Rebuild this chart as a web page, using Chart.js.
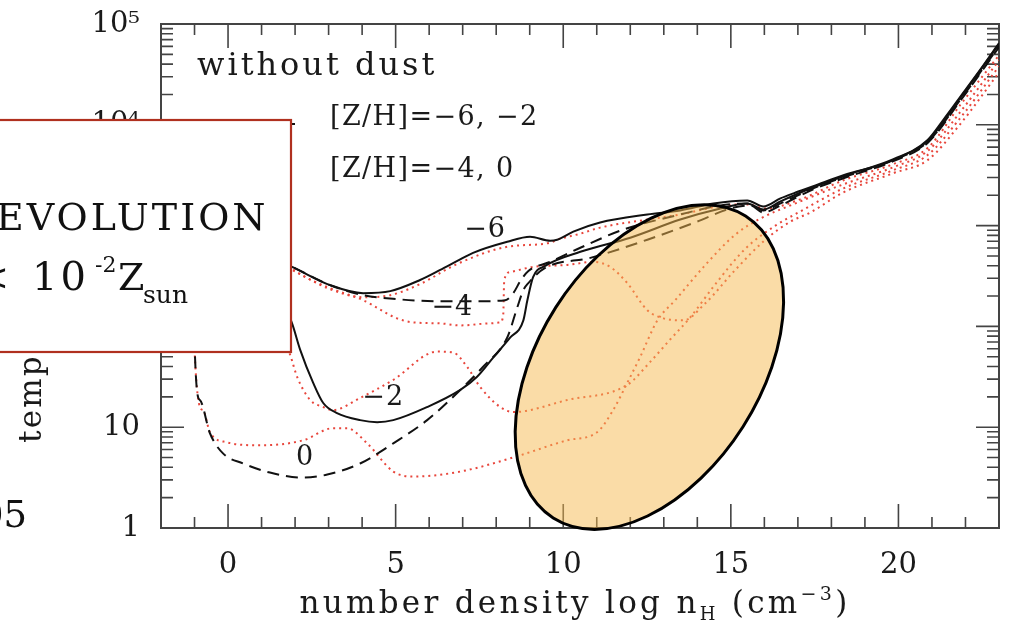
<!DOCTYPE html>
<html>
<head>
<meta charset="utf-8">
<script src="https://cdn.jsdelivr.net/npm/chart.js@4.4.1/dist/chart.umd.min.js"></script>
<style>
  html, body { margin: 0; padding: 0; background: #fff; }
</style>
</head>
<body>
<canvas id="tempChart" width="1009" height="640"></canvas>
<script>
// tracks: log10 n_H (cm^-3) and log10 T (K)
const solidM6N    = [-1, 0, 1, 1.91, 3.04, 4.03, 4.84, 5.73, 6.33, 6.84, 7.31, 8.33, 9.01, 9.61, 9.82, 10.30, 11.10, 12.51, 13.49, 14.48, 15.49, 15.97, 16.48, 16.87, 17.46, 18.36, 19.85, 20.87, 21.34, 21.85, 22.36, 23];
const solidM6LogT = [3.40, 2.95, 2.72, 2.59, 2.41, 2.33, 2.35, 2.46, 2.56, 2.65, 2.73, 2.84, 2.89, 2.85, 2.86, 2.94, 3.03, 3.11, 3.15, 3.22, 3.25, 3.19, 3.27, 3.32, 3.39, 3.50, 3.65, 3.85, 4.05, 4.28, 4.51, 4.81];

const dashM4N    = [-1, 0, 1, 1.91, 3.04, 4.03, 5.04, 6.33, 7.52, 8.27, 8.51, 8.72, 8.96, 9.61, 10.51, 11.79, 13.49, 14.69, 15.49, 15.97, 16.48, 17.46, 18.36, 19.85, 20.87, 21.85, 23];
const dashM4LogT = [3.40, 2.95, 2.72, 2.59, 2.41, 2.31, 2.27, 2.25, 2.25, 2.26, 2.33, 2.45, 2.55, 2.64, 2.78, 2.96, 3.11, 3.20, 3.22, 3.15, 3.22, 3.37, 3.48, 3.65, 3.83, 4.25, 4.78];

const solidM2N    = [-1, 0, 1, 1.91, 2.15, 2.54, 2.84, 3.25, 3.94, 4.45, 4.93, 5.94, 6.93, 7.43, 7.91, 8.42, 8.81, 8.93, 9.10, 9.46, 10.51, 12.00, 13.49, 14.69, 15.49, 15.97, 16.48, 17.46, 18.36, 19.85, 20.87, 21.85, 23];
const solidM2LogT = [3.40, 3.00, 2.70, 2.03, 1.77, 1.44, 1.24, 1.14, 1.07, 1.05, 1.07, 1.20, 1.37, 1.50, 1.69, 1.89, 2.06, 2.26, 2.49, 2.60, 2.74, 2.88, 3.06, 3.17, 3.22, 3.16, 3.24, 3.38, 3.49, 3.66, 3.84, 4.27, 4.80];

const dash0N    = [-1, -0.99, -0.84, -0.54, -0.15, 0.45, 1.25, 2.24, 2.96, 3.94, 4.93, 5.94, 6.93, 7.61, 8.33, 8.63, 8.81, 8.96, 9.46, 10.81, 12.51, 14.00, 14.99, 15.58, 15.97, 16.48, 17.46, 18.36, 19.85, 20.87, 21.85, 23];
const dash0LogT = [3.40, 1.74, 1.27, 0.94, 0.74, 0.64, 0.55, 0.50, 0.53, 0.64, 0.84, 1.07, 1.37, 1.60, 1.89, 2.19, 2.36, 2.43, 2.58, 2.68, 2.86, 3.04, 3.17, 3.20, 3.13, 3.20, 3.36, 3.47, 3.64, 3.82, 4.24, 4.77];

const dotM6N    = [-1, 0, 1, 1.91, 3.04, 4.03, 4.84, 5.73, 6.84, 8.33, 9.61, 9.82, 10.51, 11.10, 12.51, 13.49, 14.78, 15.49, 16.03, 17.07, 18.36, 19.85, 20.87, 21.85, 23];
const dotM6LogT = [3.38, 2.93, 2.70, 2.56, 2.37, 2.29, 2.31, 2.42, 2.62, 2.79, 2.83, 2.86, 2.92, 2.98, 3.06, 3.11, 3.20, 3.21, 3.17, 3.26, 3.45, 3.61, 3.77, 4.20, 4.69];

const dotM4N    = [-1, 0, 1, 1.91, 2.24, 3.04, 4.03, 5.04, 5.52, 6.33, 6.93, 7.82, 8.12, 8.21, 8.24, 8.42, 9.10, 10.12, 10.90, 11.40, 11.91, 12.51, 12.99, 13.58, 14.24, 15.13, 16.03, 16.78, 17.37, 18.36, 19.85, 20.87, 21.85, 23];
const dotM4LogT = [3.38, 2.93, 2.70, 2.57, 2.50, 2.38, 2.26, 2.08, 2.04, 2.03, 2.01, 2.03, 2.04, 2.12, 2.46, 2.54, 2.59, 2.61, 2.64, 2.59, 2.43, 2.16, 2.08, 2.06, 2.23, 2.56, 2.86, 3.04, 3.13, 3.33, 3.52, 3.65, 4.01, 4.52];

const dotM2N    = [-1, 0, 1, 1.85, 2.06, 2.45, 2.84, 3.13, 3.94, 4.93, 6.24, 6.72, 7.13, 7.52, 8.12, 8.51, 10.12, 11.91, 12.60, 13.19, 13.79, 14.54, 15.43, 16.33, 17.07, 18.36, 19.85, 20.87, 21.85, 23];
const dotM2LogT = [3.38, 2.85, 2.35, 1.72, 1.50, 1.27, 1.20, 1.17, 1.29, 1.47, 1.75, 1.74, 1.60, 1.40, 1.20, 1.15, 1.27, 1.42, 1.65, 1.87, 2.09, 2.42, 2.77, 3.00, 3.14, 3.37, 3.55, 3.70, 4.07, 4.58];

const dot0N    = [-1, -0.99, -0.75, -0.54, -0.03, 0.96, 2.24, 3.13, 3.55, 4.15, 4.93, 5.52, 6.93, 8.51, 10.12, 11.01, 11.49, 11.91, 12.30, 12.81, 13.34, 14.24, 15.13, 15.88, 16.78, 18.36, 19.85, 20.87, 21.85, 23];
const dot0LogT = [3.38, 1.70, 1.17, 0.95, 0.85, 0.82, 0.87, 0.99, 0.99, 0.84, 0.56, 0.51, 0.56, 0.70, 0.87, 0.95, 1.17, 1.44, 1.70, 2.06, 2.26, 2.61, 2.91, 3.07, 3.20, 3.41, 3.58, 3.74, 4.13, 4.64];

const xTickValues = [0, 5, 10, 15, 20];
const yTickValues = [1, 10, 100, 1000, 10000, 100000];
const yTickLabels = ['1', '10', '10²', '10³', '10⁴', '10⁵'];
const legendLabels = ['[Z/H]=−6, −2', '[Z/H]=−4, 0'];
const trackLabels = ['−6', '−4', '−2', '0'];
const trackLabelN = [7.67, 6.69, 4.63, 2.30];
const trackLabelT = [910, 152, 19.5, 4.9];

const serif = '"DejaVu Serif", "Liberation Serif", serif';
const RED = '#e8463c';

function toPoints(n, logT) {
  return n.map((v, i) => ({ x: v, y: Math.pow(10, logT[i]) }));
}

function track(label, n, logT, color, dash, width) {
  return {
    label: label,
    data: toPoints(n, logT),
    borderColor: color,
    borderWidth: width,
    borderDash: dash,
    pointRadius: 0,
    fill: false,
    tension: 0.4,
    cubicInterpolationMode: 'monotone'
  };
}

// black tracks first so they sit on top of the red ones
const datasets = [
  track('-6', solidM6N, solidM6LogT, '#111', [], 2),
  track('-2', solidM2N, solidM2LogT, '#111', [], 2),
  track('-4', dashM4N, dashM4LogT, '#111', [12, 7], 2),
  track('0', dash0N, dash0LogT, '#111', [12, 7], 2),
  track('-6 dotted', dotM6N, dotM6LogT, RED, [2, 4], 2),
  track('-4 dotted', dotM4N, dotM4LogT, RED, [2, 4], 2),
  track('-2 dotted', dotM2N, dotM2LogT, RED, [2, 4], 2),
  track('0 dotted', dot0N, dot0LogT, RED, [2, 4], 2)
];

function drawFrame(chart) {
  const ctx = chart.ctx, a = chart.chartArea;
  const xs = chart.scales.x, ys = chart.scales.y;
  ctx.save();
  ctx.strokeStyle = '#444';
  ctx.lineWidth = 2;
  ctx.strokeRect(a.left, a.top, a.right - a.left, a.bottom - a.top);
  ctx.lineWidth = 1.6;
  ctx.beginPath();
  for (let v = -1; v <= 22; v++) {
    const px = xs.getPixelForValue(v);
    const len = v % 5 === 0 ? 24 : 11;
    ctx.moveTo(px, a.bottom); ctx.lineTo(px, a.bottom - len);
    ctx.moveTo(px, a.top); ctx.lineTo(px, a.top + len);
  }
  for (let d = 0; d < 5; d++) {
    for (let m = 1; m <= 9; m++) {
      const py = ys.getPixelForValue(m * Math.pow(10, d));
      const len = m === 1 ? 23 : 12;
      ctx.moveTo(a.left, py); ctx.lineTo(a.left + len, py);
      ctx.moveTo(a.right, py); ctx.lineTo(a.right - len, py);
    }
  }
  ctx.stroke();
  ctx.restore();
}

function drawXTitle(ctx, cx, baseline) {
  const parts = [
    { t: 'number density log n', size: 31, dy: 0 },
    { t: 'H', size: 18, dy: 7 },
    { t: ' (cm', size: 31, dy: 0 },
    { t: '−3', size: 19, dy: -13 },
    { t: ')', size: 31, dy: 0 }
  ];
  ctx.letterSpacing = '3.3px';
  let total = 0;
  parts.forEach(p => { ctx.font = p.size + 'px ' + serif; p.w = ctx.measureText(p.t).width; total += p.w; });
  let x = cx - total / 2;
  ctx.textAlign = 'left';
  parts.forEach(p => {
    ctx.font = p.size + 'px ' + serif;
    ctx.fillText(p.t, x, baseline + p.dy);
    x += p.w;
  });
}

const overlay = {
  id: 'overlay',
  beforeDatasetsDraw(chart) {
    drawFrame(chart);
  },
  afterDraw(chart) {
    const ctx = chart.ctx, a = chart.chartArea;
    const xs = chart.scales.x, ys = chart.scales.y;
    ctx.save();
    ctx.fillStyle = '#1a1a1a';
    ctx.textBaseline = 'alphabetic';

    // panel texts
    ctx.font = '32px ' + serif;
    ctx.letterSpacing = '3px';
    ctx.fillText('without dust', a.left + 36, a.top + 51);

    ctx.font = '27px ' + serif;
    ctx.letterSpacing = '1.4px';
    ctx.fillText(legendLabels[0], 330, 125);
    ctx.fillText(legendLabels[1], 330, 177);

    // legend samples (mostly under the slide box)
    ctx.strokeStyle = '#111';
    ctx.lineWidth = 2;
    ctx.beginPath(); ctx.moveTo(200, 124); ctx.lineTo(295, 124); ctx.stroke();
    ctx.setLineDash([12, 7]);
    ctx.beginPath(); ctx.moveTo(200, 172); ctx.lineTo(288, 172); ctx.stroke();
    ctx.setLineDash([]);

    ctx.textAlign = 'center';
    ctx.textBaseline = 'middle';
    ctx.letterSpacing = '1px';
    trackLabels.forEach((t, i) => {
      ctx.fillText(t, xs.getPixelForValue(trackLabelN[i]), ys.getPixelForValue(trackLabelT[i]));
    });

    // axis titles
    ctx.textBaseline = 'alphabetic';
    drawXTitle(ctx, 575, 613);

    ctx.save();
    ctx.translate(41, 443);
    ctx.rotate(-Math.PI / 2);
    ctx.font = '31px ' + serif;
    ctx.letterSpacing = '2.2px';
    ctx.textAlign = 'left';
    ctx.fillText('temperature T (K)', 0, 0);
    ctx.restore();

    // highlighted region, tilted so the top leans to the right
    ctx.beginPath();
    ctx.ellipse(xs.getPixelForValue(12.57), ys.getPixelForValue(39.5), 111, 179, 32.5 * Math.PI / 180, 0, Math.PI * 2);
    ctx.fillStyle = 'rgba(246, 186, 80, 0.5)';
    ctx.fill();
    ctx.strokeStyle = '#000';
    ctx.lineWidth = 3;
    ctx.stroke();

    // slide callout box
    ctx.fillStyle = '#fff';
    ctx.fillRect(-5, 120, 296, 232);
    ctx.strokeStyle = '#b0301f';
    ctx.lineWidth = 2.2;
    ctx.strokeRect(-5, 120, 296, 232);

    ctx.fillStyle = '#111';
    ctx.textAlign = 'left';
    ctx.font = '38px ' + serif;
    ctx.letterSpacing = '3px';
    ctx.fillText('EVOLUTION', -4, 230);
    ctx.letterSpacing = '0px';
    ctx.textAlign = 'right';
    ctx.fillText('<', 9, 290);
    ctx.textAlign = 'left';
    ctx.font = '40px ' + serif;
    ctx.letterSpacing = '3px';
    ctx.fillText('10', 32, 290);
    ctx.letterSpacing = '0px';
    ctx.font = '22px ' + serif;
    ctx.fillText('-2', 95, 272);
    ctx.font = '38px ' + serif;
    ctx.fillText('Z', 118, 290);
    ctx.font = '25px ' + serif;
    ctx.fillText('sun', 143, 303);

    // cut-off slide text at the left edge
    ctx.font = '37px ' + serif;
    ctx.textAlign = 'right';
    ctx.fillText('2005', 27, 527);
    ctx.restore();
  }
};

new Chart(document.getElementById('tempChart').getContext('2d'), {
  type: 'line',
  data: { datasets: datasets },
  options: {
    responsive: false,
    animation: false,
    layout: { padding: { top: 24, right: 10, left: 0, bottom: 0 } },
    plugins: { legend: { display: false }, tooltip: { enabled: false } },
    scales: {
      x: {
        type: 'linear',
        min: -2,
        max: 23,
        grid: { display: false, drawTicks: false },
        border: { display: false },
        afterBuildTicks: s => { s.ticks = xTickValues.map(v => ({ value: v })); },
        afterFit: s => { s.height = 112; s.paddingLeft = 0; s.paddingRight = 0; },
        ticks: {
          padding: 20,
          maxRotation: 0,
          autoSkip: false,
          color: '#1a1a1a',
          font: { family: serif, size: 29 },
          callback: v => String(v)
        }
      },
      y: {
        type: 'logarithmic',
        min: 1,
        max: 100000,
        grid: { display: false, drawTicks: false },
        border: { display: false },
        afterBuildTicks: s => { s.ticks = yTickValues.map(v => ({ value: v })); },
        afterFit: s => { s.width = 161; s.paddingTop = 0; s.paddingBottom = 0; },
        ticks: {
          padding: 21,
          autoSkip: false,
          color: '#1a1a1a',
          font: { family: serif, size: 29 },
          callback: (v, i) => yTickLabels[i]
        }
      }
    }
  },
  plugins: [overlay]
});
</script>
</body>
</html>
